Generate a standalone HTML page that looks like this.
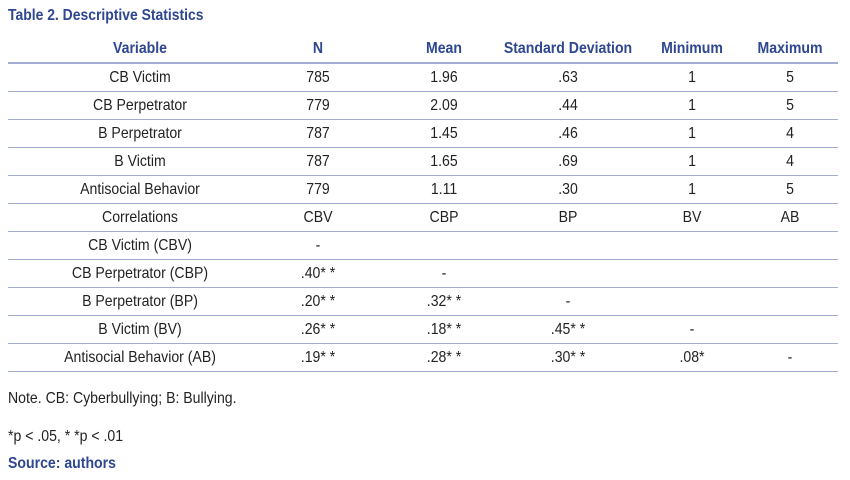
<!DOCTYPE html>
<html><head><meta charset="utf-8"><style>
body{margin:0;width:850px;height:480px;background:#fff;position:relative;overflow:hidden;font-family:"Liberation Sans Narrow","Liberation Sans",sans-serif;font-size:16px;color:#222}
.t{position:absolute;white-space:nowrap;line-height:16px;transform:scaleX(.88);transform-origin:0 0}
.c{transform:translateX(-50%) scaleX(.88);transform-origin:50% 0}
.b{color:#2f4690;font-weight:bold}
.l{position:absolute;left:8px;width:830px;height:1px;background:#a3acd3}
</style></head><body>
<div class="t b" style="left:8px;top:8px;font-size:16px;transform:scaleX(.87)">Table 2. Descriptive Statistics</div>
<div class="t b c" style="left:140px;top:41px">Variable</div>
<div class="t b c" style="left:318px;top:41px">N</div>
<div class="t b c" style="left:444px;top:41px">Mean</div>
<div class="t b c" style="left:568px;top:41px">Standard Deviation</div>
<div class="t b c" style="left:692px;top:41px">Minimum</div>
<div class="t b c" style="left:790px;top:41px">Maximum</div>
<div class="l" style="top:62px;height:2px"></div>
<div id="rows"></div>
<script>
var rows=[["CB Victim","785","1.96",".63","1","5"],["CB Perpetrator","779","2.09",".44","1","5"],["B Perpetrator","787","1.45",".46","1","4"],["B Victim","787","1.65",".69","1","4"],["Antisocial Behavior","779","1.11",".30","1","5"],["Correlations","CBV","CBP","BP","BV","AB"],["CB Victim (CBV)","-","","","",""],["CB Perpetrator (CBP)",".40* *","-","","",""],["B Perpetrator (BP)",".20* *",".32* *","-","",""],["B Victim (BV)",".26* *",".18* *",".45* *","-",""],["Antisocial Behavior (AB)",".19* *",".28* *",".30* *",".08*","-"]];
var xs=[140,318,444,568,692,790],h="";
rows.forEach(function(r,i){var y=70+i*28;r.forEach(function(v,j){if(v)h+='<div class="t c" style="left:'+xs[j]+'px;top:'+y+'px">'+v+'</div>';});h+='<div class="l" style="top:'+(91+i*28)+'px"></div>';});
document.getElementById("rows").innerHTML=h;
</script>
<div class="t" style="left:8px;top:391px">Note. CB: Cyberbullying; B: Bullying.</div>
<div class="t" style="left:8px;top:429px">*p &lt; .05, * *p &lt; .01</div>
<div class="t b" style="left:8px;top:456px">Source: authors</div>
</body></html>
